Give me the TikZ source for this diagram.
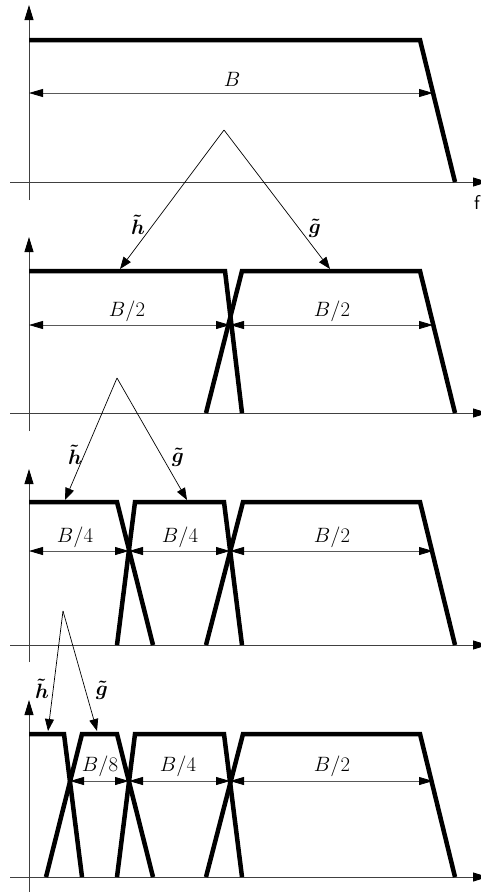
\documentclass[tikz,border=0pt]{standalone}
\usepackage{amsmath}
\usetikzlibrary{arrows.meta}
\tikzset{
  band/.style={line width=4.5pt, line join=miter},
  axisline/.style={line width=0.9pt, black!75, -{Triangle[length=15pt,width=9pt,color=black]}},
  dimline/.style={line width=0.8pt, black!65, {Triangle[length=14pt,width=8pt,color=black]}-{Triangle[length=14pt,width=8pt,color=black]}},
  branch/.style={line width=0.7pt, -{Triangle[length=12pt,width=9pt]}},
  lbl/.style={font=\fontsize{20}{24}\selectfont, inner sep=0pt},
}
\begin{document}
\begin{tikzpicture}[x=1pt,y=-1pt]
\useasboundingbox (0,0) rectangle (481,892);
% ---------- axes ----------
\foreach \ax/\yb/\yt/\n in {182/200/5/a, 413/431/237/b, 645/662/469/c, 877/892/700/d}{
  \coordinate (x0\n) at (10,\ax);
  \coordinate (x1\n) at (488,\ax);
  \coordinate (y0\n) at (29,\yb);
  \coordinate (y1\n) at (29,\yt);
  \draw[axisline] (x0\n) -- (x1\n);
  \draw[axisline] (y0\n) -- (y1\n);
}
\node[lbl, font=\fontsize{20}{24}\selectfont\sffamily] (f) at (477,202) {f};
% ---------- panel 1 ----------
\draw[band] (29,40) -- (420,40) -- (455,182);
\coordinate (d1a) at (29,93); \coordinate (d1b) at (433,93);
\draw[dimline] (d1a) -- (d1b);
\node[lbl] (B) at (232,79) {$B$};
% branch 1
\coordinate (ap1) at (224,130);
\coordinate (h1) at (120,269); \coordinate (g1) at (330,269);
\draw[branch] (ap1) -- (h1);
\draw[branch] (ap1) -- (g1);
\node[lbl] (lh1) at (138,225) {$\boldsymbol{\tilde{h}}$};
\node[lbl] (lg1) at (315,228) {$\boldsymbol{\tilde{g}}$};
% ---------- panel 2 ----------
\draw[band] (29,271) -- (225,271) -- (242,413);
\draw[band] (206,413) -- (242,271) -- (420,271) -- (455,413);
\coordinate (d2a) at (29,325); \coordinate (d2b) at (230,325); \coordinate (d2c) at (433,325);
\draw[dimline] (d2a) -- (d2b);
\draw[dimline] (d2b) -- (d2c);
\node[lbl] (B2a) at (127,311) {$B/2$};
\node[lbl] (B2b) at (332,311) {$B/2$};
% branch 2
\coordinate (ap2) at (117,378);
\coordinate (h2) at (65,500); \coordinate (g2) at (187,500);
\draw[branch] (ap2) -- (h2);
\draw[branch] (ap2) -- (g2);
\node[lbl] (lh2) at (75,455) {$\boldsymbol{\tilde{h}}$};
\node[lbl] (lg2) at (178,457) {$\boldsymbol{\tilde{g}}$};
% ---------- panel 3 ----------
\draw[band] (29,502) -- (117,502) -- (153,645);
\draw[band] (117,645) -- (135,502) -- (224,502) -- (242,645);
\draw[band] (206,645) -- (243,502) -- (420,502) -- (455,645);
\coordinate (d3a) at (29,551); \coordinate (d3b) at (129,551);
\coordinate (d3c) at (230,551); \coordinate (d3d) at (433,551);
\draw[dimline] (d3a) -- (d3b);
\draw[dimline] (d3b) -- (d3c);
\draw[dimline] (d3c) -- (d3d);
\node[lbl] (B3a) at (75,537) {$B/4$};
\node[lbl] (B3b) at (180,537) {$B/4$};
\node[lbl] (B3c) at (332,537) {$B/2$};
% branch 3
\coordinate (ap3) at (63,611);
\coordinate (h3) at (48,731); \coordinate (g3) at (97,731);
\draw[branch] (ap3) -- (h3);
\draw[branch] (ap3) -- (g3);
\node[lbl] (lh3) at (42,689) {$\boldsymbol{\tilde{h}}$};
\node[lbl] (lg3) at (102,690) {$\boldsymbol{\tilde{g}}$};
% ---------- panel 4 ----------
\draw[band] (29,734) -- (64,734) -- (82,877);
\draw[band] (46,877) -- (82,734) -- (117,734) -- (153,877);
\draw[band] (117,877) -- (135,734) -- (224,734) -- (242,877);
\draw[band] (206,877) -- (243,734) -- (420,734) -- (455,877);
\coordinate (d4a) at (70,781); \coordinate (d4b) at (129,781);
\coordinate (d4c) at (230,781); \coordinate (d4d) at (433,781);
\draw[dimline] (d4a) -- (d4b);
\draw[dimline] (d4b) -- (d4c);
\draw[dimline] (d4c) -- (d4d);
\node[lbl] (B4a) at (100,766) {$B/8$};
\node[lbl] (B4b) at (178,766) {$B/4$};
\node[lbl] (B4c) at (332,766) {$B/2$};
\end{tikzpicture}
\end{document}
